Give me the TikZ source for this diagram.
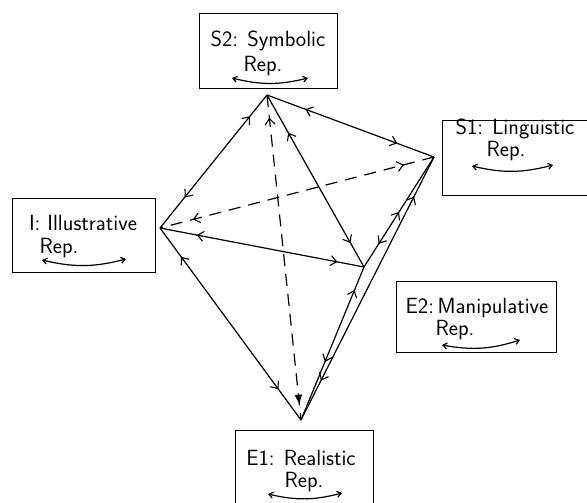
\documentclass[tikz,border=0pt]{standalone}
\usetikzlibrary{arrows.meta,decorations.markings}
\begin{document}
\begin{tikzpicture}[x=1pt,y=-1pt,
  box/.style={draw,line width=1.3pt,inner sep=0pt,anchor=north west},
  lbl/.style={anchor=base,inner sep=0pt,font=\sffamily\fontsize{22}{24}\selectfont},
  edge/.style={line width=1.2pt},
  dsh/.style={line width=1.2pt,dash pattern=on 12pt off 8pt},
  dbl/.style 2 args={postaction={decorate},decoration={markings,
     mark=at position #1 with {\arrowreversed[line width=1.1pt]{Straight Barb[length=6pt,width=10pt]}},
     mark=at position #2 with {\arrow[line width=1.1pt]{Straight Barb[length=6pt,width=10pt]}}}},
  swing/.style={line width=1.2pt,{Straight Barb[length=4pt,width=6pt]}-{Straight Barb[length=4pt,width=6pt]}}
]
\useasboundingbox (0,0) rectangle (587,503);
\clip (0,0) rectangle (587,503);

% boxes
\node[box,minimum width=138pt,minimum height=75pt] (s2box) at (199,13) {};
\node[box,minimum width=145pt,minimum height=75pt] (s1box) at (442,120) {};
\node[box,minimum width=143pt,minimum height=74pt] (ibox) at (12,198) {};
\node[box,minimum width=160pt,minimum height=71pt] (e2box) at (396,281) {};
\node[box,minimum width=138pt,minimum height=90pt] (e1box) at (235,430) {};

% labels
\node[lbl] (s2a) at (268,47) {S2: Symbolic};
\node[lbl] (s2b) at (263,72) {Rep.};
\node[lbl] (s1a) at (515,135) {S1: Linguistic};
\node[lbl] (s1b) at (506,156) {Rep.};
\node[lbl] (ia) at (83,230) {I: Illustrative};
\node[lbl] (ib) at (59,253) {Rep.};
\node[lbl] (e2a) at (477,313) {E2:\,Manipulative};
\node[lbl] (e2b) at (455,335) {Rep.};
\node[lbl] (e1a) at (301,465) {E1: Realistic};
\node[lbl] (e1b) at (304,487) {Rep.};

% swing arrows under "Rep."
\coordinate (s2l) at (232,78); \coordinate (s2r) at (308,78);
\coordinate (s1l) at (472,166); \coordinate (s1r) at (553,165);
\coordinate (il) at (42,260); \coordinate (ir) at (126,259);
\coordinate (e2l) at (442,345); \coordinate (e2r) at (520,340);
\coordinate (e1l) at (268,494); \coordinate (e1r) at (342,493);
\draw[swing] (s2l) to[bend right=14] (s2r);
\draw[swing] (s1l) to[bend right=14] (s1r);
\draw[swing] (il) to[bend right=14] (ir);
\draw[swing] (e2l) to[bend right=14] (e2r);
\draw[swing] (e1l) to[bend right=14] (e1r);

% vertices
\coordinate (S2) at (267,95);
\coordinate (S1) at (434,157);
\coordinate (I) at (160,228);
\coordinate (M) at (364,267);
\coordinate (E1) at (301,420);

% solid edges
\draw[edge,dbl={0.16}{0.77}] (S2) -- (I);
\draw[edge,dbl={0.23}{0.78}] (S2) -- (S1);
\draw[edge,dbl={0.22}{0.86}] (S2) -- (M);
\draw[edge,dbl={0.18}{0.87}] (I) -- (M);
\draw[edge,dbl={0.15}{0.84}] (I) -- (E1);
\draw[edge,dbl={0.5}{0.79}] (S1) -- (M);
\draw[edge,dbl={0.15}{0.85}] (S1) -- (E1);
\draw[edge,dbl={0.15}{0.62}] (M) -- (E1);

% dashed edges
\draw[dsh,postaction={decorate},decoration={markings,
   mark=at position 0.07 with {\arrowreversed[line width=1.1pt,solid]{Straight Barb[length=6pt,width=10pt]}},
   mark=at position 0.95 with {\arrow[solid]{Triangle[length=9pt,width=7pt]}}}] (S2) -- (E1);
\draw[dsh,dbl={0.11}{0.88}] (S1) -- (I);
\end{tikzpicture}
\end{document}
